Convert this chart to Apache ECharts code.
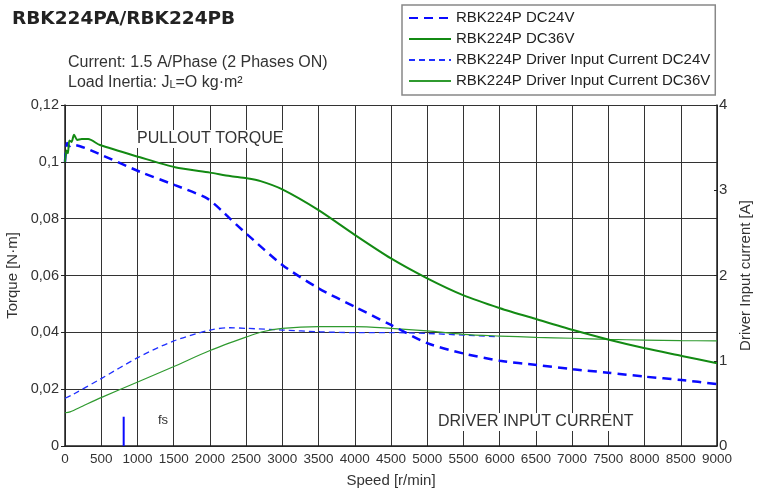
<!DOCTYPE html>
<html>
<head>
<meta charset="utf-8">
<script src="https://cdn.jsdelivr.net/npm/echarts@6/dist/echarts.min.js"></script>
<style>
  html, body { margin: 0; padding: 0; background: #fff; }
  #chart { width: 760px; height: 488px; }
</style>
</head>
<body>
<div id="chart"></div>
<script>
// pullout torque, DC24V [N·m]
const speed24 = [0, 30, 60, 100, 207, 345, 1035, 1518, 1956, 2183, 2278, 2500, 3000, 3500, 4000, 4500, 5000, 5494, 6005, 6511, 7013, 7496, 8006, 8513, 9000]
const torque24 = [0.100, 0.1066, 0.1055, 0.106, 0.1055, 0.1042, 0.0965, 0.0918, 0.0872, 0.0824, 0.080, 0.0748, 0.0637, 0.0555, 0.049, 0.0426, 0.0362, 0.0326, 0.0300, 0.0285, 0.0270, 0.0258, 0.0244, 0.0232, 0.0218]

// pullout torque, DC36V [N·m]
const speed36 = [0, 20, 40, 60, 90, 125, 170, 230, 320, 483, 1035, 1518, 2002, 2278, 2508, 2700, 3000, 3500, 4000, 4500, 5000, 5494, 6005, 6511, 7013, 7496, 8006, 8513, 9000]
const torque36 = [0.100, 0.104, 0.103, 0.1075, 0.107, 0.1095, 0.1077, 0.108, 0.108, 0.1059, 0.1016, 0.0981, 0.0962, 0.095, 0.0942, 0.0932, 0.0903, 0.083, 0.0743, 0.066, 0.059, 0.0531, 0.0485, 0.0446, 0.0408, 0.0375, 0.0344, 0.0317, 0.0291]

// driver input current [A]
const speedCur24 = [0, 100, 506, 1012, 1495, 2002, 2278, 2508, 3000, 3520, 4000, 4500, 5000, 5500, 6000]
const current24 = [0.56, 0.60, 0.794, 1.04, 1.23, 1.36, 1.387, 1.38, 1.36, 1.34, 1.33, 1.33, 1.32, 1.30, 1.28]
const speedCur36 = [0, 70, 248, 506, 1012, 1495, 2002, 2508, 2725, 3000, 3500, 4000, 4500, 5000, 5500, 6000, 6500, 7000, 7500, 8000, 8500, 9000]
const current36 = [0.39, 0.40, 0.47, 0.57, 0.754, 0.93, 1.12, 1.28, 1.34, 1.38, 1.40, 1.40, 1.38, 1.35, 1.31, 1.29, 1.275, 1.264, 1.25, 1.243, 1.237, 1.232]

// fs marker
const fsSpeed = 810
const fsHeight = 0.0103

const FONT = "'Liberation Sans', Arial, sans-serif"
const zip = (xs, ys) => xs.map((x, i) => [x, ys[i]])
const fmtComma = v => String(Math.round(v * 100) / 100).replace('.', ',')

const chart = echarts.init(document.getElementById('chart'))

chart.setOption({
  animation: false,
  textStyle: { fontFamily: FONT },
  title: {
    text: 'RBK224PA/RBK224PB',
    left: 7,
    top: 5,
    textStyle: { fontSize: 18.5, fontWeight: 'bold', color: '#222', fontFamily: "'DejaVu Sans', sans-serif" }
  },
  legend: {
    orient: 'vertical',
    left: 402,
    top: 5,
    padding: [5, 5, 6, 6],
    itemWidth: 42,
    itemHeight: 14,
    itemGap: 5,
    borderColor: '#888',
    borderWidth: 1.5,
    itemStyle: { opacity: 0 },
    textStyle: { fontSize: 15, lineHeight: 16, color: '#222', fontFamily: FONT },
    data: ['RBK224P DC24V', 'RBK224P DC36V', 'RBK224P Driver Input Current DC24V', 'RBK224P Driver Input Current DC36V']
  },
  grid: { left: 65, right: 43, top: 105, bottom: 42, outerBoundsMode: 'none' },
  xAxis: {
    type: 'value',
    min: 0,
    max: 9000,
    interval: 500,
    name: 'Speed [r/min]',
    nameLocation: 'middle',
    nameGap: 27,
    nameTextStyle: { fontSize: 15, color: '#333' },
    axisLine: { lineStyle: { color: '#222', width: 1.5 } },
    axisTick: { show: false },
    axisLabel: { fontSize: 13.5, color: '#333', margin: 6, formatter: v => String(v) },
    splitLine: { show: true, lineStyle: { color: '#333', width: 1 } }
  },
  yAxis: [{
    type: 'value',
    min: 0,
    max: 0.12,
    interval: 0.02,
    name: 'Torque [N·m]',
    nameLocation: 'middle',
    nameGap: 38,
    nameTextStyle: { fontSize: 15, color: '#333' },
    axisLine: { show: true, lineStyle: { color: '#222', width: 1.5 } },
    axisTick: { show: true, length: 4, lineStyle: { color: '#222' } },
    axisLabel: { fontSize: 14.5, color: '#333', margin: 6, formatter: fmtComma },
    splitLine: { show: true, lineStyle: { color: '#333', width: 1 } }
  }, {
    type: 'value',
    min: 0,
    max: 4,
    interval: 1,
    position: 'right',
    name: 'Driver Input current [A]',
    nameLocation: 'middle',
    nameGap: 19,
    nameRotate: 90,
    nameTextStyle: { fontSize: 15, color: '#333' },
    axisLine: { show: true, lineStyle: { color: '#222', width: 1.5 } },
    axisTick: { show: true, length: 3, inside: true, lineStyle: { color: '#222' } },
    axisLabel: { fontSize: 15, color: '#333', margin: 2 },
    splitLine: { show: false }
  }],
  series: [{
    name: 'RBK224P DC24V',
    type: 'line',
    symbol: 'none',
    yAxisIndex: 0,
    smooth: 0.25,
    z: 5,
    lineStyle: { color: '#0a0aff', width: 2.5, type: [9, 6] },
    itemStyle: { color: '#0a0aff' },
    data: zip(speed24, torque24)
  }, {
    name: 'RBK224P DC36V',
    type: 'line',
    symbol: 'none',
    yAxisIndex: 0,
    smooth: 0.25,
    z: 5,
    lineStyle: { color: '#138a13', width: 2 },
    itemStyle: { color: '#138a13' },
    data: zip(speed36, torque36)
  }, {
    name: 'RBK224P Driver Input Current DC24V',
    type: 'line',
    symbol: 'none',
    yAxisIndex: 1,
    smooth: 0.3,
    z: 4,
    lineStyle: { color: '#2030ff', width: 1.3, type: [6, 4] },
    itemStyle: { color: '#2030ff' },
    data: zip(speedCur24, current24)
  }, {
    name: 'RBK224P Driver Input Current DC36V',
    type: 'line',
    symbol: 'none',
    yAxisIndex: 1,
    smooth: 0.3,
    z: 4,
    lineStyle: { color: '#2f9a2f', width: 1.2 },
    itemStyle: { color: '#2f9a2f' },
    data: zip(speedCur36, current36)
  }, {
    name: 'fs',
    type: 'line',
    symbol: 'none',
    yAxisIndex: 0,
    lineStyle: { color: '#0a0aff', width: 2 },
    data: [[fsSpeed, 0], [fsSpeed, fsHeight]]
  }],
  graphic: [{
    type: 'text',
    left: 68,
    top: 55,
    style: { text: 'Current: 1.5 A/Phase (2 Phases ON)', fontSize: 16, fill: '#333', fontFamily: FONT }
  }, {
    type: 'text',
    left: 68,
    top: 75,
    style: {
      text: 'Load Inertia: J{sub|L}=O kg·m²',
      fontSize: 16,
      fill: '#333',
      fontFamily: FONT,
      rich: { sub: { fontSize: 11, fill: '#333', fontFamily: FONT, padding: [4, 0, 0, 0] } }
    }
  }, {
    type: 'text',
    left: 134,
    top: 130,
    z: 10,
    style: { text: 'PULLOUT TORQUE', fontSize: 16, fill: '#333', fontFamily: FONT, backgroundColor: '#fff', padding: [1, 3, 1, 3] }
  }, {
    type: 'text',
    left: 435,
    top: 413,
    z: 10,
    style: { text: 'DRIVER INPUT CURRENT', fontSize: 16, fill: '#333', fontFamily: FONT, backgroundColor: '#fff', padding: [1, 3, 1, 3] }
  }, {
    type: 'text',
    left: 158,
    top: 414,
    z: 10,
    style: { text: 'fs', fontSize: 13, fill: '#333', fontFamily: FONT }
  }]
})
</script>
</body>
</html>
